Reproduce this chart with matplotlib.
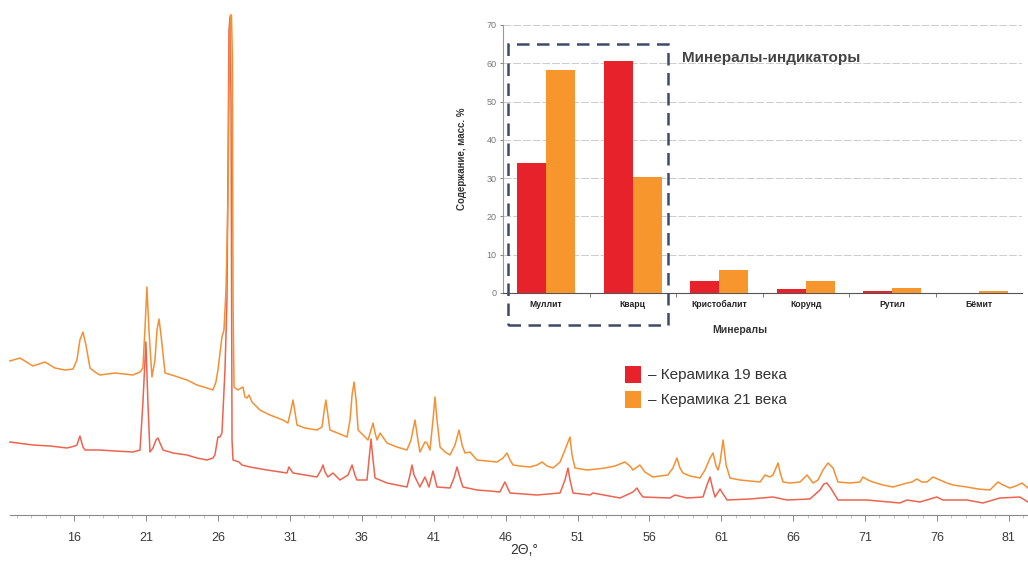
import matplotlib
matplotlib.use("Agg")
import matplotlib.pyplot as plt
from matplotlib.patches import Rectangle
from matplotlib.ticker import FixedLocator

plt.rcParams['font.family'] = ['Liberation Sans', 'DejaVu Sans']

# ---------------- XRD patterns (2θ, intensity a.u.) ----------------
tt_21 = [11.51, 12.21, 13.11, 13.95, 14.64, 15.34, 15.90, 16.17, 16.38, 16.59, 16.80, 17.08, 17.43, 17.77,
         18.82, 20.07, 20.56, 20.76, 20.90, 21.04, 21.18, 21.39, 21.60, 21.74, 21.88, 22.02, 22.30, 22.99,
         23.83, 24.52, 25.22, 25.63, 25.84, 25.98, 26.26, 26.40, 26.54, 26.68, 26.78, 26.85, 26.92, 26.99,
         27.03, 27.10, 27.37, 27.72, 27.86, 28.00, 28.14, 28.35, 28.90, 29.60, 30.50, 30.85, 31.06, 31.20,
         31.34, 31.48, 32.03, 32.87, 33.22, 33.36, 33.49, 33.63, 33.77, 34.47, 34.96, 35.17, 35.31, 35.45,
         35.59, 35.73, 36.07, 36.42, 36.63, 36.77, 36.91, 37.05, 37.26, 37.74, 38.43, 39.13, 39.41, 39.69,
         39.89, 40.03, 40.38, 40.52, 40.73, 40.94, 41.08, 41.22, 41.43, 41.78, 42.12, 42.47, 42.75, 42.96,
         43.17, 43.51, 44.00, 44.69, 45.39, 45.81, 46.09, 46.30, 46.51, 46.99, 47.69, 48.18, 48.52, 48.87,
         49.29, 49.78, 50.12, 50.47, 50.61, 50.82, 51.65, 52.35, 52.90, 53.60, 54.29, 54.64, 54.85, 55.33,
         55.68, 56.24, 56.72, 57.28, 57.63, 57.91, 58.12, 58.33, 58.82, 59.51, 59.86, 60.21, 60.42, 60.63,
         60.77, 60.91, 61.12, 61.33, 61.60, 62.30, 62.99, 63.69, 64.04, 64.38, 64.59, 64.80, 64.94, 65.08,
         65.29, 65.78, 66.47, 66.96, 67.38, 67.72, 68.07, 68.42, 68.77, 69.11, 69.95, 70.64, 70.85, 71.20,
         71.54, 72.24, 72.94, 73.42, 73.91, 74.26, 74.60, 74.95, 75.30, 75.72, 76.20, 76.69, 77.11, 77.59,
         78.08, 78.85, 79.68, 80.03, 80.24, 80.59, 81.07, 81.49, 81.91, 82.33]
int_21 = [154, 157, 149, 153, 147, 145, 146, 155, 175, 183, 170, 147, 143, 140,
          142, 140, 143, 147, 185, 228, 185, 138, 155, 185, 196, 180, 142, 139,
          135, 130, 127, 125, 133, 145, 178, 185, 225, 315, 455, 500, 500, 455,
          215, 128, 125, 128, 118, 117, 120, 113, 105, 100, 95, 92, 105, 115,
          103, 90, 87, 85, 88, 103, 115, 100, 85, 81, 78, 95, 120, 133,
          115, 85, 80, 75, 85, 92, 82, 75, 82, 72, 68, 65, 75, 95,
          75, 63, 73, 72, 65, 95, 118, 95, 68, 63, 60, 70, 85, 70,
          62, 63, 55, 54, 53, 57, 62, 55, 50, 49, 48, 50, 53, 49,
          47, 53, 65, 78, 60, 47, 45, 46, 47, 49, 53, 49, 45, 50,
          43, 38, 39, 40, 47, 57, 47, 42, 39, 37, 45, 57, 62, 49,
          45, 53, 75, 50, 37, 35, 34, 33, 40, 38, 40, 47, 52, 43,
          33, 32, 33, 40, 32, 35, 45, 52, 47, 33, 32, 33, 38, 35,
          33, 30, 28, 30, 32, 33, 36, 33, 33, 38, 35, 32, 30, 29,
          28, 26, 25, 30, 33, 30, 27, 29, 32, 27]

tt_19 = [11.51, 13.11, 14.30, 15.48, 16.03, 16.17, 16.38, 16.59, 16.73, 17.77, 18.82, 20.07, 20.56, 20.76,
         20.97, 21.11, 21.25, 21.46, 21.67, 21.81, 21.95, 22.16, 22.85, 23.83, 24.52, 25.22, 25.63, 25.77,
         25.98, 26.12, 26.26, 26.47, 26.61, 26.75, 26.82, 26.89, 26.96, 27.03, 27.44, 27.65, 28.21, 29.39,
         30.78, 30.92, 31.06, 31.20, 32.03, 32.87, 33.15, 33.29, 33.43, 33.63, 33.98, 34.47, 35.03, 35.31,
         35.51, 35.65, 36.35, 36.49, 36.63, 36.77, 36.91, 37.74, 38.43, 39.13, 39.34, 39.48, 39.62, 39.89,
         40.03, 40.38, 40.66, 40.94, 41.22, 42.12, 42.40, 42.61, 42.82, 43.02, 44.00, 44.90, 45.59, 45.94,
         46.30, 48.17, 49.78, 50.12, 50.33, 50.47, 50.68, 51.86, 52.07, 53.95, 54.85, 55.13, 55.33, 55.54,
         57.42, 57.77, 58.61, 59.72, 60.00, 60.21, 60.42, 60.56, 60.91, 61.12, 61.40, 63.00, 64.59, 65.56,
         67.16, 67.86, 68.13, 68.34, 68.55, 68.69, 69.11, 71.13, 73.42, 73.91, 74.81, 75.99, 76.41, 78.08,
         79.19, 80.38, 81.77, 82.33]
int_19 = [73, 70, 69, 67, 69, 70, 79, 68, 65, 65, 64, 63, 65, 112,
          173, 112, 63, 67, 75, 77, 72, 65, 62, 60, 57, 55, 57, 60,
          78, 78, 82, 145, 215, 485, 498, 415, 75, 55, 53, 50, 48, 45,
          42, 48, 45, 42, 40, 38, 45, 50, 43, 38, 42, 35, 40, 50,
          40, 35, 35, 55, 76, 55, 37, 32, 30, 28, 40, 50, 40, 32,
          28, 38, 28, 44, 28, 27, 37, 48, 37, 28, 25, 24, 23, 33,
          22, 20, 22, 35, 47, 35, 22, 20, 22, 17, 23, 27, 22, 18,
          17, 20, 17, 18, 30, 38, 25, 18, 26, 21, 15, 16, 18, 15,
          16, 25, 31, 32, 28, 25, 15, 15, 12, 15, 13, 18, 15, 15,
          12, 17, 18, 13]

xticks_main = [16, 21, 26, 31, 36, 41, 46, 51, 56, 61, 66, 71, 76, 81]
xticks_minor = list(range(12, 83))

# ---------------- Inset bar chart ----------------
minerals = ['Муллит', 'Кварц', 'Кристобалит', 'Корунд', 'Рутил', 'Бёмит']
ceramic_19 = [34.0, 60.5, 3.2, 1.0, 0.4, 0.0]
ceramic_21 = [58.3, 30.2, 5.9, 3.1, 1.3, 0.4]
yticks_inset = [0, 10, 20, 30, 40, 50, 60, 70]

RED = '#E8222A'
ORANGE = '#F7962C'
LINE19 = '#EC6450'
LINE21 = '#F39034'

W, H = 1028, 563
fig = plt.figure(figsize=(W / 100, H / 100), dpi=100)

# main XRD axes
ax = fig.add_axes([0, 48 / H, 1, 515 / H])
ax.plot(tt_19, int_19, color=LINE19, lw=1.1, zorder=2)
ax.plot(tt_21, int_21, color=LINE21, lw=1.1, zorder=3)
ax.set_xlim(10.82, 82.33)
ax.set_ylim(0, 515)
for s in ['top', 'right', 'left']:
    ax.spines[s].set_visible(False)
ax.spines['bottom'].set_color('#8a8a8a')
ax.spines['bottom'].set_linewidth(0.8)
ax.spines['bottom'].set_bounds(11.5, 82.33)
ax.set_yticks([])
ax.xaxis.set_major_locator(FixedLocator(xticks_main))
ax.xaxis.set_minor_locator(FixedLocator(xticks_minor))
ax.tick_params(axis='x', which='major', length=4, width=0.7, color='#8a8a8a',
               labelsize=9, labelcolor='#3a3a3a', pad=8)
ax.tick_params(axis='x', which='minor', length=2.5, width=0.5, color='#aaaaaa')
ax.set_xticklabels([str(v) for v in xticks_main])
fig.text(524 / W, 1 - 550 / H, '2Θ,°', ha='center', va='center', fontsize=10, color='#333333')

# inset axes
ax2 = fig.add_axes([503 / W, (H - 293) / H, 519 / W, 268 / H])
ax2.set_facecolor('white')
x = list(range(len(minerals)))
bw = 0.335
ax2.bar([i - bw / 2 for i in x], ceramic_19, width=bw, color=RED, zorder=3)
ax2.bar([i + bw / 2 for i in x], ceramic_21, width=bw, color=ORANGE, zorder=3)
ax2.set_xlim(-0.5, 5.5)
ax2.set_ylim(0, 70)
ax2.set_yticks(yticks_inset)
ax2.tick_params(axis='y', labelsize=6.5, labelcolor='#777777', length=2.5, color='#888888', pad=2)
ax2.set_xticks(x)
ax2.set_xticklabels(minerals, fontsize=6.2, color='#222222', fontweight='bold')
ax2.xaxis.set_minor_locator(FixedLocator([0.5, 1.5, 2.5, 3.5, 4.5]))
ax2.tick_params(axis='x', which='major', length=0, pad=5)
ax2.tick_params(axis='x', which='minor', length=3, color='#666666')
ax2.grid(axis='y', color='#cccccc', lw=0.7, ls=(0, (8, 2)), zorder=0)
ax2.spines['top'].set_visible(False)
ax2.spines['right'].set_visible(False)
ax2.spines['left'].set_color('#999999')
ax2.spines['bottom'].set_color('#555555')
ax2.set_ylabel('Содержание, масс. %', fontsize=7, fontweight='bold', color='#333333')
ax2.yaxis.set_label_coords(-0.069, 0.5)
ax2.set_xlabel('Минералы', fontsize=7.5, fontweight='bold', color='#333333')
ax2.xaxis.set_label_coords(0.457, -0.119)

fig.text(682 / W, 1 - 58 / H, 'Минералы-индикаторы', ha='left', va='center',
         fontsize=11, fontweight='bold', color='#444444')

# dashed highlight box
fig.add_artist(Rectangle((508 / W, (H - 325) / H), 160 / W, 281 / H, transform=fig.transFigure,
                         fill=False, edgecolor='#3E4A6A', lw=1.8, ls=(0, (5, 3)), zorder=10))

# legend
fig.add_artist(Rectangle((625 / W, (H - 383) / H), 16 / W, 17 / H, transform=fig.transFigure,
                         facecolor=RED, edgecolor='none'))
fig.add_artist(Rectangle((625 / W, (H - 408) / H), 16 / W, 17 / H, transform=fig.transFigure,
                         facecolor=ORANGE, edgecolor='none'))
fig.text(648 / W, 1 - 375 / H, '– Керамика 19 века', ha='left', va='center', fontsize=11, color='#333333')
fig.text(648 / W, 1 - 400 / H, '– Керамика 21 века', ha='left', va='center', fontsize=11, color='#333333')

fig.savefig('out.png', dpi=100, facecolor='white')
